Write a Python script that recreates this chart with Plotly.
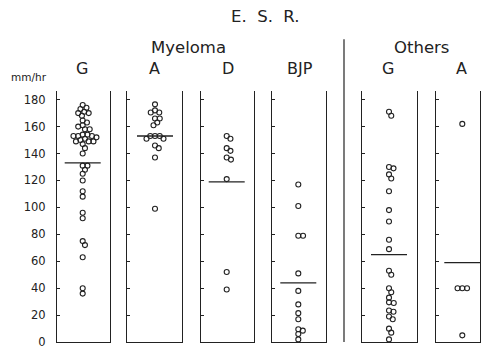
import plotly.graph_objects as go

# ---------------- data ----------------
group_labels = ["G", "A", "D", "BJP", "G", "A"]
super_labels = ["Myeloma", "Others"]

myeloma_G = [176, 174, 173, 171, 170, 170, 168, 164.5, 163, 161, 160, 158, 158,
             154, 154, 153, 153, 153, 152, 151, 150, 149, 149, 149, 147, 144, 140,
             131, 131, 128, 125, 120, 112, 108, 96, 92, 75, 72, 63, 40, 36]
myeloma_A = [176.5, 172, 170.5, 170.5, 166, 166, 163, 161, 153, 153, 153, 151, 151,
             146, 144, 137, 99]
myeloma_D = [153, 151, 144, 142, 137, 135.5, 121, 52, 39]
myeloma_BJP = [117, 101, 79, 79, 51, 38, 28, 21.5, 17, 9.5, 8.5, 6, 2]
others_G = [171, 168, 130, 129, 124.5, 121.5, 112, 98, 89.5, 76, 69, 53, 50, 40,
            37, 33, 29.5, 29, 23.5, 22.5, 19, 17, 10, 7, 2]
others_A = [162, 40, 40, 40, 5]

group_means = [133, 153, 119, 44, 65, 59]
y_ticks = [0, 20, 40, 60, 80, 100, 120, 140, 160, 180]
y_unit = "mm/hr"
title_text = "E.  S.  R."

series = [myeloma_G, myeloma_A, myeloma_D, myeloma_BJP, others_G, others_A]

# ---------------- layout constants (pixels) ----------------
W, H = 487, 354
panel_left = [57, 127, 201, 272, 362, 436]
panel_right = [110, 182, 254, 326, 417, 480]
panel_center = [82.7, 155, 226.7, 298.3, 389, 462.3]
plot_top, plot_bottom = 93, 349
y_max = 186.3
px_per_unit = (plot_bottom - plot_top) / y_max
INK = "#222222"
FONT = "DejaVu Sans"


def px(x):
    return x / W


def py(y):
    return 1 - y / H


def swarm(values, d=4.6, step=0.25):
    """Simple beeswarm: place each point nearest the centre without overlap (pixel units)."""
    order = sorted(range(len(values)), key=lambda i: -values[i])
    placed = []
    xs = [0.0] * len(values)
    cands = [0.0]
    for k in range(1, 200):
        cands += [k * step, -k * step]
    for i in order:
        yv = values[i] * px_per_unit
        for cx in cands:
            if all((cx - a) ** 2 + (yv - b) ** 2 >= d * d for a, b in placed):
                break
        xs[i] = cx
        placed.append((cx, yv))
    return xs


fig = go.Figure()
layout = dict(
    width=W, height=H,
    margin=dict(l=0, r=0, t=0, b=0),
    paper_bgcolor="white", plot_bgcolor="white",
    showlegend=False,
    font=dict(family=FONT, color=INK),
)

for i, vals in enumerate(series):
    n = "" if i == 0 else str(i + 1)
    xs = swarm(vals)
    fig.add_trace(go.Scatter(
        x=xs, y=vals, mode="markers", xaxis="x" + n, yaxis="y" + n,
        marker=dict(symbol="circle-open", size=5, color=INK, line=dict(width=1.1, color=INK)),
        cliponaxis=False, hoverinfo="y",
    ))
    fig.add_trace(go.Scatter(
        x=[-18, 18], y=[group_means[i], group_means[i]], mode="lines",
        xaxis="x" + n, yaxis="y" + n,
        line=dict(color=INK, width=1.3), cliponaxis=False, hoverinfo="y",
    ))
    L, R, c = panel_left[i], panel_right[i], panel_center[i]
    layout["xaxis" + n] = dict(
        domain=[px(L), px(R)], range=[L - c, R - c], anchor="y" + n,
        showline=True, linecolor=INK, linewidth=1, showgrid=False, zeroline=False,
        showticklabels=False, ticks="", fixedrange=True,
    )
    layout["yaxis" + n] = dict(
        domain=[py(plot_bottom), py(plot_top)], range=[0, y_max], anchor="x" + n,
        showline=True, mirror=True, linecolor=INK, linewidth=1.2,
        ticks="inside", ticklen=3, tickcolor=INK, tickwidth=1,
        tickvals=y_ticks, showticklabels=(i == 0), ticklabelstandoff=8,
        ticklabeloverflow="allow",
        tickfont=dict(family=FONT, size=11.5, color=INK),
        showgrid=False, zeroline=False, fixedrange=True,
    )

fig.update_layout(**layout)

# texts
ann = [
    dict(text=title_text, x=px(265), y=py(16.5), size=16.5),
    dict(text=super_labels[0], x=px(188), y=py(48), size=16.5),
    dict(text=super_labels[1], x=px(421), y=py(48), size=16.5),
    dict(text=y_unit, x=px(28.5), y=py(79), size=10.5),
]
label_x = [81.7, 154.3, 227.7, 300, 388.3, 461.7]
for lx, lab in zip(label_x, group_labels):
    ann.append(dict(text=lab, x=px(lx), y=py(70), size=16))
for a in ann:
    fig.add_annotation(text=a["text"], x=a["x"], y=a["y"], xref="paper", yref="paper",
                       xanchor="center", yanchor="middle", showarrow=False,
                       font=dict(family=FONT, size=a["size"], color=INK))

# divider between Myeloma and Others
fig.add_shape(type="line", xref="paper", yref="paper",
              x0=px(344), x1=px(344), y0=py(40), y1=py(349),
              line=dict(color=INK, width=1.2))

fig.write_html(
    "out.html",
    config={"displayModeBar": False},
    post_script="document.body.style.margin='0';document.body.style.overflow='hidden';",
)
